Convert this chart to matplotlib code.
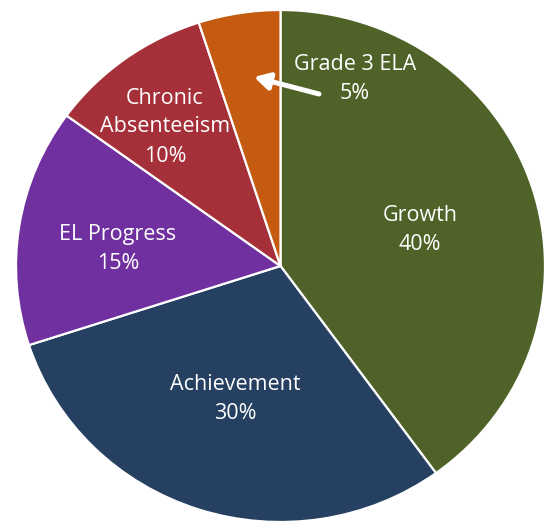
import matplotlib
matplotlib.use("Agg")
import matplotlib.pyplot as plt

categories = ["Growth", "Achievement", "EL Progress", "Chronic\nAbsenteeism", "Grade 3 ELA"]
values = [40, 30, 15, 10, 5]
colors = ["#4F6228", "#254061", "#7030A0", "#A5303A", "#C55A11"]

W, H = 545, 523
fig = plt.figure(figsize=(W / 100, H / 100), dpi=100)
cx, cy, rx, ry = 280.5, 266.0, 264.5, 256.0
ax = fig.add_axes([(cx - rx) / W, (H - cy - ry) / H, 2 * rx / W, 2 * ry / H])

wedges, _ = ax.pie(values, colors=colors, startangle=90, counterclock=False,
                   wedgeprops=dict(edgecolor="white", linewidth=1.6))
ax.set_aspect("auto")
ax.set_xlim(-1, 1)
ax.set_ylim(-1, 1)
ax.axis("off")

def px(x, y):
    return ((x - cx) / rx, (cy - y) / ry)

label_px = [(420, 230), (235, 399), (118, 249), (165, 127), (355, 79)]
font = dict(family="Open Sans", fontsize=15.5, color="white", ha="center",
            va="center", linespacing=1.5)
for cat, val, pos in zip(categories, values, label_px):
    ax.text(*px(*pos), f"{cat}\n{val}%", **font)

ax.annotate("", xy=px(254, 77), xytext=px(319, 94),
            arrowprops=dict(arrowstyle="-|>,head_length=0.9,head_width=0.5",
                            color="white", lw=3.6, shrinkA=0, shrinkB=0))

fig.savefig("out.png", dpi=100, facecolor="white")
